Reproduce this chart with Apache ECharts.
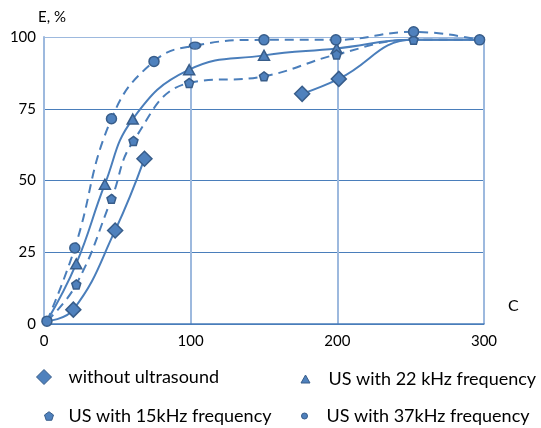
<!DOCTYPE html>
<html>
<head>
<meta charset="utf-8">
<script src="https://cdn.jsdelivr.net/npm/echarts@6/dist/echarts.min.js"></script>
<style>
  html, body { margin: 0; padding: 0; background: #fff; }
  #chart { width: 541px; height: 428px; }
</style>
</head>
<body>
<div id="chart"></div>
<script>
// Axis ticks
const xTicks = [0, 100, 200, 300];
const yTicks = [0, 25, 50, 75, 100];

// Without ultrasound: two measured runs (low and high C range)
const noUsLowX = [2, 20, 48.5, 68.5];
const noUsLowY = [1, 5, 32.6, 57.6];
const noUsHighX = [176, 201, 252, 297];
const noUsHighY = [80.2, 85.4, 99, 99];

// US with 22 kHz frequency
const us22X = [2, 22, 41.5, 60.5, 99, 150, 199.5, 252, 297];
const us22Y = [1, 21, 48.7, 71.4, 88.6, 93.6, 96, 99, 99];

// US with 15kHz frequency
const us15X = [2, 22, 46, 61, 99, 150, 199.5, 252, 297];
const us15Y = [1, 13.8, 43.6, 63.8, 84, 86.3, 93.9, 99, 99];

// US with 37kHz frequency
const us37X = [2, 21, 46, 75, 103, 150, 199, 252, 297];
const us37Y = [1, 26.5, 71.5, 91.5, 97, 99, 99, 101.8, 99];

const NAMES = ['without ultrasound', 'US with 22 kHz frequency', 'US with 15kHz frequency', 'US with 37kHz frequency'];

const LINE = '#4A7EBB';
const FILL = '#4F81BD';
const EDGE = '#385D8A';
const GRID_LIGHT = '#9DB9DE';
const GRID_DARK = '#4A7EBB';
const FONT = 'Lato, "Open Sans", sans-serif';
const PENTAGON = 'path://M50,0L97.6,34.5L79.4,90.5L20.6,90.5L2.4,34.5Z';

// Build [x, y] points; points outside [markFrom, markTo] carry no marker
function pts(xs, ys, markFrom, markTo, extra) {
  return xs.map((x, i) => {
    const item = { value: [x, ys[i]] };
    if (i < markFrom || i > markTo) item.symbol = 'none';
    if (extra && extra[i]) Object.assign(item, extra[i]);
    return item;
  });
}

function lineSeries(name, data, symbol, size, dashed) {
  return {
    name, type: 'line', data, smooth: 0.45, symbol, symbolSize: size,
    clip: false, showAllSymbol: true,
    lineStyle: { color: LINE, width: 2, type: dashed ? [9, 6] : 'solid' },
    itemStyle: { color: FILL, borderColor: EDGE, borderWidth: 1.5 },
    emphasis: { disabled: true }, z: 3
  };
}

const series = [
  lineSeries(NAMES[0], pts(noUsLowX, noUsLowY, 1, 3), 'diamond', 15, false),
  lineSeries(NAMES[0], pts(noUsHighX, noUsHighY, 0, 1), 'diamond', 15, false),
  lineSeries(NAMES[1], pts(us22X, us22Y, 1, 6), 'triangle', [11, 10], false),
  lineSeries(NAMES[2], pts(us15X, us15Y, 1, 7), PENTAGON, 9, true),
  lineSeries(NAMES[3], pts(us37X, us37Y, 0, 8, { 4: { symbolSize: [11, 7] } }), 'circle', 10, true)
];

function legendItem(name, icon, w, h, left, top, pad) {
  return {
    data: [{ name, icon }], left, top, orient: 'vertical',
    itemWidth: w, itemHeight: h, selectedMode: false,
    itemStyle: { color: FILL, borderColor: EDGE, borderWidth: 1 },
    textStyle: { fontFamily: FONT, fontSize: 18, color: '#000', padding: pad }
  };
}

const chart = echarts.init(document.getElementById('chart'), null, { renderer: 'canvas' });
chart.setOption({
  animation: false,
  backgroundColor: '#fff',
  grid: { left: 44, right: 57, top: 37, bottom: 104, show: false },
  xAxis: {
    type: 'value', min: xTicks[0], max: xTicks[xTicks.length - 1], interval: xTicks[1] - xTicks[0],
    name: 'C', nameLocation: 'end', nameGap: 24,
    nameTextStyle: { fontFamily: FONT, fontSize: 16, color: '#000', verticalAlign: 'bottom', padding: [0, 0, 10, 0] },
    axisLine: { show: true, onZero: false, lineStyle: { color: GRID_DARK, width: 1.5 } },
    axisTick: { show: false },
    axisLabel: { fontFamily: FONT, fontSize: 15, color: '#000', margin: 10 },
    splitLine: { show: true, lineStyle: { color: GRID_LIGHT, width: 2 } }
  },
  yAxis: {
    type: 'value', min: yTicks[0], max: yTicks[yTicks.length - 1], interval: yTicks[1] - yTicks[0],
    name: 'E, %', nameLocation: 'end', nameGap: 12,
    nameTextStyle: { fontFamily: FONT, fontSize: 15, color: '#000', align: 'left', padding: [0, 0, 0, -6] },
    axisLine: { show: true, lineStyle: { color: GRID_LIGHT, width: 2 } },
    axisTick: { show: false },
    axisLabel: { fontFamily: FONT, fontSize: 15, color: '#000', margin: 8 },
    splitLine: { show: true, lineStyle: { color: [GRID_DARK, GRID_DARK, GRID_DARK, GRID_DARK, GRID_LIGHT], width: 1.2 } }
  },
  legend: [
    legendItem(NAMES[0], 'diamond', 15, 15, 31, 363, [0, 0, 0, 12]),
    legendItem(NAMES[2], PENTAGON, 9, 9, 39, 402, [0, 0, 0, 10]),
    legendItem(NAMES[1], 'triangle', 9, 8, 295.5, 365, [0, 0, 0, 13.5]),
    legendItem(NAMES[3], 'circle', 10, 6, 296, 402, [0, 0, 10, 12])
  ],
  series
});
</script>
</body>
</html>
